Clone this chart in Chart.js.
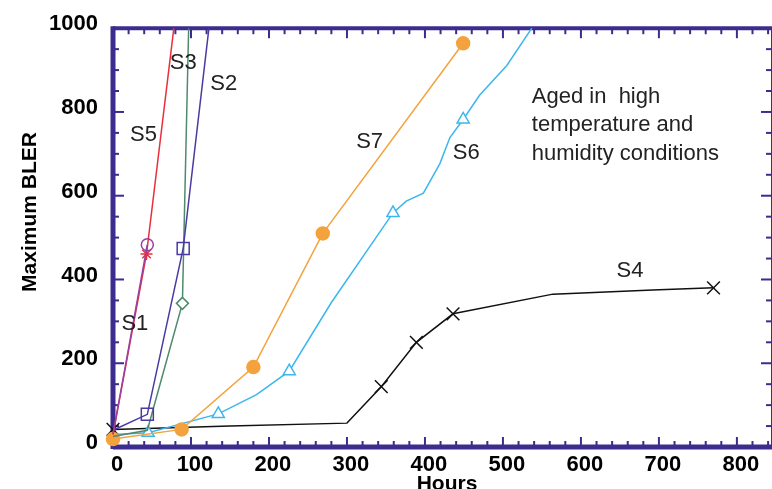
<!DOCTYPE html>
<html>
<head>
<meta charset="utf-8">
<script src="https://cdn.jsdelivr.net/npm/chart.js@4"></script>
<style>
  body { margin: 0; background: #fff; }
  #wrap { width: 772px; height: 489px; }
</style>
</head>
<body>
<div id="wrap"><canvas id="myChart"></canvas></div>
<script>
// values (hours, maximum BLER)
const s1Hours = [0, 44];
const s1Bler = [30, 483];
const s5Hours = [0, 43, 78];
const s5Bler = [30, 461, 1000];
const s2Hours = [0, 44, 90, 123];
const s2Bler = [40, 78, 474, 1000];
const s3Hours = [0, 44, 89, 97];
const s3Bler = [25, 40, 343, 1000];
const s7Hours = [0, 88, 180, 269, 449];
const s7Bler = [19, 42, 191, 510, 964];
const s6Hours = [0, 45, 135, 184, 226, 280, 359, 376, 398, 419, 432, 449, 470, 505, 537];
const s6Bler = [30, 34, 79, 125, 181, 345, 559, 587, 606, 676, 739, 782, 840, 911, 1000];
const s4Hours = [0, 150, 300, 344, 389, 436, 564, 692, 770];
const s4Bler = [42, 50, 57, 144, 250, 318, 365, 375, 380];

// which points carry a marker
const s1Marks = [1];
const s5Marks = [1];
const s2Marks = [1, 2];
const s3Marks = [2];
const s7Marks = [0, 1, 2, 3, 4];
const s6Marks = [1, 2, 4, 6, 11];
const s4Marks = [0, 3, 4, 5, 8];

const xTicks = [0, 100, 200, 300, 400, 500, 600, 700, 800];
const yTicks = [0, 200, 400, 600, 800, 1000];

// series labels: [text, hours, bler]
const seriesLabels = [
  ['S5', 39, 744], ['S3', 90, 918], ['S2', 142, 868], ['S1', 28, 294],
  ['S7', 329, 729], ['S6', 453, 701], ['S4', 663, 420]
];
const noteLines = ['Aged in  high', 'temperature and', 'humidity conditions'];

function pts(xs, ys) {
  return xs.map((x, i) => ({ x: x, y: ys[i] }));
}
function radii(n, marks, r) {
  let out = [];
  for (let i = 0; i < n; i++) out.push(marks.includes(i) ? r : 0);
  return out;
}
function series(label, xs, ys, marks, color, style, r, fill) {
  return {
    label: label,
    data: pts(xs, ys),
    showLine: true,
    borderColor: color,
    borderWidth: 1.5,
    pointStyle: style,
    pointRadius: radii(xs.length, marks, r),
    pointHoverRadius: radii(xs.length, marks, r),
    pointBorderColor: color,
    pointBorderWidth: 1.5,
    pointBackgroundColor: fill,
    clip: false,
  };
}

const frame = {
  id: 'frame',
  beforeDatasetsDraw(chart) {
    const { ctx, chartArea: a, scales: { x, y } } = chart;
    const line = (x1, y1, x2, y2) => { ctx.beginPath(); ctx.moveTo(x1, y1); ctx.lineTo(x2, y2); ctx.stroke(); };
    ctx.save();
    ctx.strokeStyle = '#3b2c8e';
    ctx.lineWidth = 2;
    for (let v = 0; v <= x.max; v += 20) {
      const px = x.getPixelForValue(v);
      const len = v % 100 === 0 ? 10 : 6;
      line(px, a.bottom, px, a.bottom - len);
      line(px, a.top, px, a.top + len);
    }
    for (let v = 0; v <= y.max; v += 50) {
      const py = y.getPixelForValue(v);
      const len = v % 200 === 0 ? 11 : 6;
      line(a.left, py, a.left + len, py);
      line(a.right, py, a.right - len, py);
    }
    ctx.lineWidth = 5;
    line(a.left, a.top - 2, a.left, a.bottom + 2);
    line(a.left, a.bottom, a.right + 2, a.bottom);
    ctx.lineWidth = 4;
    line(a.left, a.top, a.right + 2, a.top);
    line(a.right + 1, a.top, a.right + 1, a.bottom);
    ctx.restore();
  },
  afterDatasetsDraw(chart) {
    const { ctx, scales: { x, y } } = chart;
    ctx.save();
    ctx.fillStyle = '#222';
    ctx.font = '22px "Liberation Sans", Arial, sans-serif';
    ctx.textAlign = 'center';
    ctx.textBaseline = 'middle';
    seriesLabels.forEach(l => ctx.fillText(l[0], x.getPixelForValue(l[1]), y.getPixelForValue(l[2])));
    ctx.textAlign = 'left';
    const nx = x.getPixelForValue(537);
    noteLines.forEach((t, i) => ctx.fillText(t, nx, y.getPixelForValue(836) + i * 28.5));
    // axis titles
    ctx.fillStyle = '#000';
    ctx.font = 'bold 21px "Liberation Sans", Arial, sans-serif';
    ctx.textAlign = 'center';
    ctx.fillText('Hours', 447, 484);
    ctx.translate(30, 212);
    ctx.rotate(-Math.PI / 2);
    ctx.fillText('Maximum BLER', 0, 0);
    ctx.restore();
  }
};

var ctx = document.getElementById('myChart');
var myChart = new Chart(ctx, {
  type: 'scatter',
  data: {
    datasets: [
      series('S1', s1Hours, s1Bler, s1Marks, '#9a3fa3', 'circle', 6, 'rgba(0,0,0,0)'),
      series('S5', s5Hours, s5Bler, s5Marks, '#e8303c', 'star', 6, '#e8303c'),
      series('S2', s2Hours, s2Bler, s2Marks, '#4a3aa2', 'rect', 8.5, 'rgba(0,0,0,0)'),
      series('S3', s3Hours, s3Bler, s3Marks, '#4f8a6c', 'rectRot', 6, '#fff'),
      series('S7', s7Hours, s7Bler, s7Marks, '#f4a23e', 'circle', 6.5, '#f4a23e'),
      series('S6', s6Hours, s6Bler, s6Marks, '#3cb6ee', 'triangle', 7, '#fff'),
      series('S4', s4Hours, s4Bler, s4Marks, '#111', 'crossRot', 9, '#111'),
    ],
  },
  options: {
    responsive: true,
    maintainAspectRatio: false,
    animation: false,
    layout: { autoPadding: false, padding: { top: 22, left: 0, right: 0, bottom: 0 } },
    plugins: { legend: { display: false }, tooltip: { enabled: false } },
    scales: {
      x: {
        type: 'linear', min: 0, max: 845,
        grid: { display: false, drawTicks: false },
        border: { display: false },
        afterBuildTicks: s => { s.ticks = xTicks.map(v => ({ value: v })); },
        afterFit: s => { s.height = 42; },
        ticks: { color: '#000', padding: 5, labelOffset: 4, maxRotation: 0,
                 callback: v => String(v),
                 font: { family: '"Liberation Sans", Arial, sans-serif', size: 22, weight: 'bold' } },
      },
      y: {
        type: 'linear', min: 0, max: 1000,
        grid: { display: false, drawTicks: false },
        border: { display: false },
        afterBuildTicks: s => { s.ticks = yTicks.map(v => ({ value: v })); },
        afterFit: s => { s.width = 113; },
        ticks: { color: '#000', padding: 15, labelOffset: -4,
                 callback: v => String(v),
                 font: { family: '"Liberation Sans", Arial, sans-serif', size: 22, weight: 'bold' } },
      },
    },
  },
  plugins: [frame],
});
</script>
</body>
</html>
